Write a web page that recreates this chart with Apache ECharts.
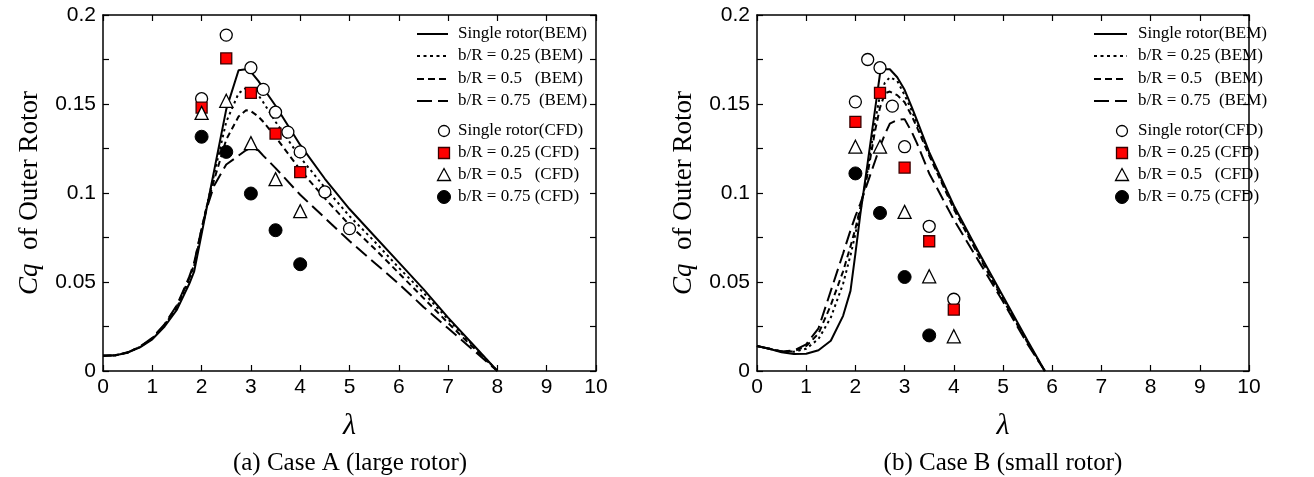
<!DOCTYPE html>
<html>
<head>
<meta charset="utf-8">
<script src="https://cdn.jsdelivr.net/npm/echarts@6/dist/echarts.min.js"></script>
<style>html,body{margin:0;padding:0;background:#fff}#c{width:1314px;height:477px}</style>
</head>
<body>
<div id="c"></div>
<script>
// ---------- Case A (large rotor) ----------
const lamA = [0, 0.25, 0.5, 0.75, 1, 1.25, 1.5, 1.75, 1.85, 2, 2.1, 2.25, 2.5, 2.75, 2.9, 3, 3.15, 3.25, 3.5, 4, 4.5, 5, 5.5, 6, 6.5, 7, 7.5, 8];
const A_single_BEM = [0.0085, 0.0088, 0.0103, 0.0133, 0.0178, 0.025, 0.0345, 0.049, 0.056, 0.077, 0.091, 0.112, 0.147, 0.169, 0.1695, 0.168, 0.163, 0.159, 0.149, 0.127, 0.108, 0.091, 0.076, 0.061, 0.046, 0.030, 0.015, 0];
const A_025_BEM = [0.0085, 0.0088, 0.0104, 0.0135, 0.0182, 0.0258, 0.0358, 0.051, 0.059, 0.079, 0.092, 0.110, 0.140, 0.156, 0.159, 0.158, 0.155, 0.151, 0.140, 0.120, 0.103, 0.087, 0.073, 0.058, 0.044, 0.029, 0.0145, 0];
const A_050_BEM = [0.0085, 0.0088, 0.0104, 0.0136, 0.0184, 0.026, 0.0365, 0.052, 0.060, 0.080, 0.092, 0.107, 0.130, 0.143, 0.1465, 0.146, 0.143, 0.140, 0.1315, 0.113, 0.097, 0.082, 0.069, 0.055, 0.041, 0.027, 0.0135, 0];
const A_075_BEM = [0.0085, 0.0088, 0.0105, 0.0137, 0.0186, 0.0263, 0.037, 0.053, 0.061, 0.080, 0.091, 0.104, 0.116, 0.121, 0.124, 0.1255, 0.124, 0.121, 0.114, 0.099, 0.086, 0.073, 0.061, 0.049, 0.036, 0.024, 0.012, 0];

const A_single_CFD_x = [2, 2.5, 3, 3.25, 3.5, 3.75, 4, 4.5, 5];
const A_single_CFD_y = [0.153, 0.1887, 0.1704, 0.1582, 0.1454, 0.1342, 0.1231, 0.1006, 0.080];
const A_cfd_x = [2, 2.5, 3, 3.5, 4];
const A_025_CFD = [0.148, 0.1756, 0.1563, 0.1334, 0.1117];
const A_050_CFD = [0.145, 0.1518, 0.128, 0.1078, 0.0898];
const A_075_CFD = [0.1316, 0.1231, 0.0997, 0.0791, 0.060];

// ---------- Case B (small rotor) ----------
const lamB = [0, 0.25, 0.5, 0.75, 1, 1.25, 1.5, 1.75, 1.9, 2, 2.1, 2.25, 2.4, 2.5, 2.6, 2.7, 2.85, 3, 3.15, 3.25, 3.5, 4, 4.5, 5, 5.5, 5.85];
const B_single_BEM = [0.014, 0.0125, 0.0105, 0.0095, 0.0097, 0.0117, 0.017, 0.031, 0.045, 0.066, 0.088, 0.117, 0.147, 0.167, 0.1695, 0.1695, 0.165, 0.158, 0.148, 0.141, 0.123, 0.093, 0.067, 0.042, 0.017, 0];
const B_025_BEM = [0.014, 0.0125, 0.011, 0.0108, 0.0125, 0.018, 0.030, 0.049, 0.065, 0.077, 0.090, 0.113, 0.140, 0.155, 0.162, 0.165, 0.163, 0.155, 0.146, 0.139, 0.122, 0.092, 0.066, 0.041, 0.016, 0];
const B_050_BEM = [0.014, 0.0125, 0.011, 0.011, 0.014, 0.021, 0.037, 0.056, 0.070, 0.080, 0.092, 0.111, 0.135, 0.148, 0.156, 0.157, 0.155, 0.151, 0.143, 0.137, 0.121, 0.091, 0.065, 0.040, 0.016, 0];
const B_075_BEM = [0.014, 0.0125, 0.011, 0.0115, 0.015, 0.024, 0.045, 0.066, 0.079, 0.087, 0.094, 0.106, 0.118, 0.126, 0.133, 0.139, 0.141, 0.1415, 0.134, 0.128, 0.111, 0.085, 0.062, 0.039, 0.015, 0];

const B_single_CFD_x = [2, 2.25, 2.5, 2.75, 3, 3.5, 4];
const B_single_CFD_y = [0.1512, 0.175, 0.1704, 0.1488, 0.126, 0.0813, 0.0403];
const B_cfd_x = [2, 2.5, 3, 3.5, 4];
const B_025_CFD = [0.140, 0.1563, 0.1143, 0.0729, 0.0345];
const B_050_CFD = [0.126, 0.126, 0.0894, 0.0532, 0.0195];
const B_075_x = [2, 2.5, 3, 3.5];
const B_075_CFD = [0.111, 0.0888, 0.0528, 0.020];

const xTicks = ['0','1','2','3','4','5','6','7','8','9','10'];
const yTickLabels = ['0', '0.05', '0.1', '0.15', '0.2'];
const names = ['Single rotor(BEM)', 'b/R = 0.25 (BEM)', 'b/R = 0.5   (BEM)', 'b/R = 0.75  (BEM)',
               'Single rotor(CFD)', 'b/R = 0.25 (CFD)', 'b/R = 0.5   (CFD)', 'b/R = 0.75 (CFD)'];
const captions = ['(a) Case A (large rotor)', '(b) Case B (small rotor)'];

const zip = (xs, ys) => xs.map((x, i) => [x, ys[i]]);
const serif = 'Liberation Serif';
const sans = 'Liberation Sans';

const grids = [
  {left: 103, top: 15, width: 493, height: 356},
  {left: 757, top: 15, width: 492, height: 356}
];

const xAxes = [], yAxes = [];
grids.forEach((g, gi) => {
  const base = {
    gridIndex: gi, type: 'value', min: 0, max: 10, interval: 1,
    axisLine: {show: true, onZero: false, lineStyle: {color: '#000', width: 1.5}},
    axisTick: {show: true, inside: true, length: 6, lineStyle: {color: '#000', width: 1.2}},
    splitLine: {show: false}
  };
  xAxes.push(Object.assign({}, base, {
    position: 'bottom',
    axisLabel: {show: true, margin: 6, color: '#000', fontFamily: sans, fontSize: 21,
      formatter: v => xTicks[Math.round(v)]},
    name: 'λ', nameLocation: 'middle', nameGap: 40,
    nameTextStyle: {fontFamily: serif, fontStyle: 'italic', fontSize: 30, color: '#000'}
  }));
  xAxes.push(Object.assign({}, base, {position: 'top', axisLabel: {show: false}}));
  const ybase = {
    gridIndex: gi, type: 'value', min: 0, max: 0.2, interval: 0.025,
    axisLine: {show: true, onZero: false, lineStyle: {color: '#000', width: 1.5}},
    axisTick: {show: true, inside: true, length: 6, lineStyle: {color: '#000', width: 1.2}},
    splitLine: {show: false}
  };
  yAxes.push(Object.assign({}, ybase, {
    position: 'left',
    axisLabel: {show: true, margin: 7, color: '#000', fontFamily: sans, fontSize: 21,
      formatter: v => { const k = Math.round(v / 0.025); return k % 2 ? '' : yTickLabels[k / 2]; }},
    name: '{i|Cq}  of Outer Rotor', nameLocation: 'middle', nameGap: 60, nameRotate: 90,
    nameTextStyle: {fontFamily: serif, fontSize: 27, color: '#000',
      rich: {i: {fontFamily: serif, fontStyle: 'italic', fontSize: 27, color: '#000'}}}
  }));
  yAxes.push(Object.assign({}, ybase, {position: 'right', axisLabel: {show: false}}));
});

const dashes = [null, [2.5, 3.5], [6, 4], [14, 6]];
const symStyles = [
  {symbol: 'circle', symbolSize: 12, itemStyle: {color: '#fff', borderColor: '#000', borderWidth: 1.3, opacity: 1}},
  {symbol: 'rect', symbolSize: 11, itemStyle: {color: '#ff0000', borderColor: '#3a0000', borderWidth: 1.3, opacity: 1}},
  {symbol: 'triangle', symbolSize: 13, itemStyle: {color: '#fff', borderColor: '#000', borderWidth: 1.3, opacity: 1}},
  {symbol: 'circle', symbolSize: 13, itemStyle: {color: '#000', borderColor: '#000', borderWidth: 1, opacity: 1}}
];

const series = [];
function addLines(gi, lam, arrs) {
  arrs.forEach((arr, i) => {
    series.push({
      name: names[i], type: 'line', xAxisIndex: gi * 2, yAxisIndex: gi * 2,
      data: zip(lam, arr), symbol: 'none', showSymbol: false, smooth: false, z: 2,
      lineStyle: {color: '#000', width: 2, type: dashes[i] || 'solid'}
    });
  });
}
function addPts(gi, sets) {
  sets.forEach((s, i) => {
    series.push(Object.assign({
      name: names[4 + i], type: 'scatter', xAxisIndex: gi * 2, yAxisIndex: gi * 2,
      data: zip(s[0], s[1]), z: 5
    }, JSON.parse(JSON.stringify(symStyles[i]))));
  });
}
addLines(0, lamA, [A_single_BEM, A_025_BEM, A_050_BEM, A_075_BEM]);
addLines(1, lamB, [B_single_BEM, B_025_BEM, B_050_BEM, B_075_BEM]);
addPts(0, [[A_single_CFD_x, A_single_CFD_y], [A_cfd_x, A_025_CFD], [A_cfd_x, A_050_CFD], [A_cfd_x, A_075_CFD]]);
addPts(1, [[B_single_CFD_x, B_single_CFD_y], [B_cfd_x, B_025_CFD], [B_cfd_x, B_050_CFD], [B_075_x, B_075_CFD]]);

// ---------- hand-drawn legends (graphic) ----------
const legRowsLine = [34, 56, 79, 101];
const legRowsSym = [131, 153, 175, 197];
function legendGraphics(lineX1, lineX2, symX, textX) {
  const els = [];
  for (let i = 0; i < 4; i++) {
    const y = legRowsLine[i];
    els.push({type: 'line', silent: true, z: 10,
      shape: {x1: lineX1, y1: y, x2: lineX2, y2: y},
      style: {stroke: '#000', lineWidth: 2, lineDash: dashes[i] ? [dashes[i][0] + (i === 1 ? 0.5 : 1), dashes[i][1]] : null}});
    els.push({type: 'text', silent: true, z: 10, x: textX, y: y,
      style: {text: names[i], fontFamily: serif, fontSize: 17, fill: '#000', textVerticalAlign: 'middle'}});
  }
  for (let i = 0; i < 4; i++) {
    const y = legRowsSym[i];
    let el;
    if (i === 0) el = {type: 'circle', shape: {cx: symX, cy: y, r: 5.5}, style: {fill: '#fff', stroke: '#000', lineWidth: 1.3}};
    if (i === 1) el = {type: 'rect', shape: {x: symX - 5.5, y: y - 5.5, width: 11, height: 11}, style: {fill: '#ff0000', stroke: '#3a0000', lineWidth: 1.3}};
    if (i === 2) el = {type: 'polygon', shape: {points: [[symX, y - 6.5], [symX + 6.5, y + 5.5], [symX - 6.5, y + 5.5]]}, style: {fill: '#fff', stroke: '#000', lineWidth: 1.3}};
    if (i === 3) el = {type: 'circle', shape: {cx: symX, cy: y, r: 6.5}, style: {fill: '#000', stroke: '#000', lineWidth: 1}};
    el.silent = true; el.z = 10;
    els.push(el);
    els.push({type: 'text', silent: true, z: 10, x: textX, y: y,
      style: {text: names[4 + i], fontFamily: serif, fontSize: 17, fill: '#000', textVerticalAlign: 'middle'}});
  }
  return els;
}

const chart = echarts.init(document.getElementById('c'), null, {renderer: 'canvas'});
chart.setOption({
  animation: false,
  backgroundColor: '#fff',
  grid: grids,
  xAxis: xAxes,
  yAxis: yAxes,
  series: series,
  graphic: legendGraphics(417, 448, 444, 458).concat(legendGraphics(1094, 1127, 1122, 1138)).concat([
    {type: 'text', silent: true, x: 350, y: 463, style: {text: captions[0], fontFamily: serif, fontSize: 25, fill: '#000', textAlign: 'center', textVerticalAlign: 'middle'}},
    {type: 'text', silent: true, x: 1003, y: 463, style: {text: captions[1], fontFamily: serif, fontSize: 25, fill: '#000', textAlign: 'center', textVerticalAlign: 'middle'}}
  ])
});
</script>
</body>
</html>
